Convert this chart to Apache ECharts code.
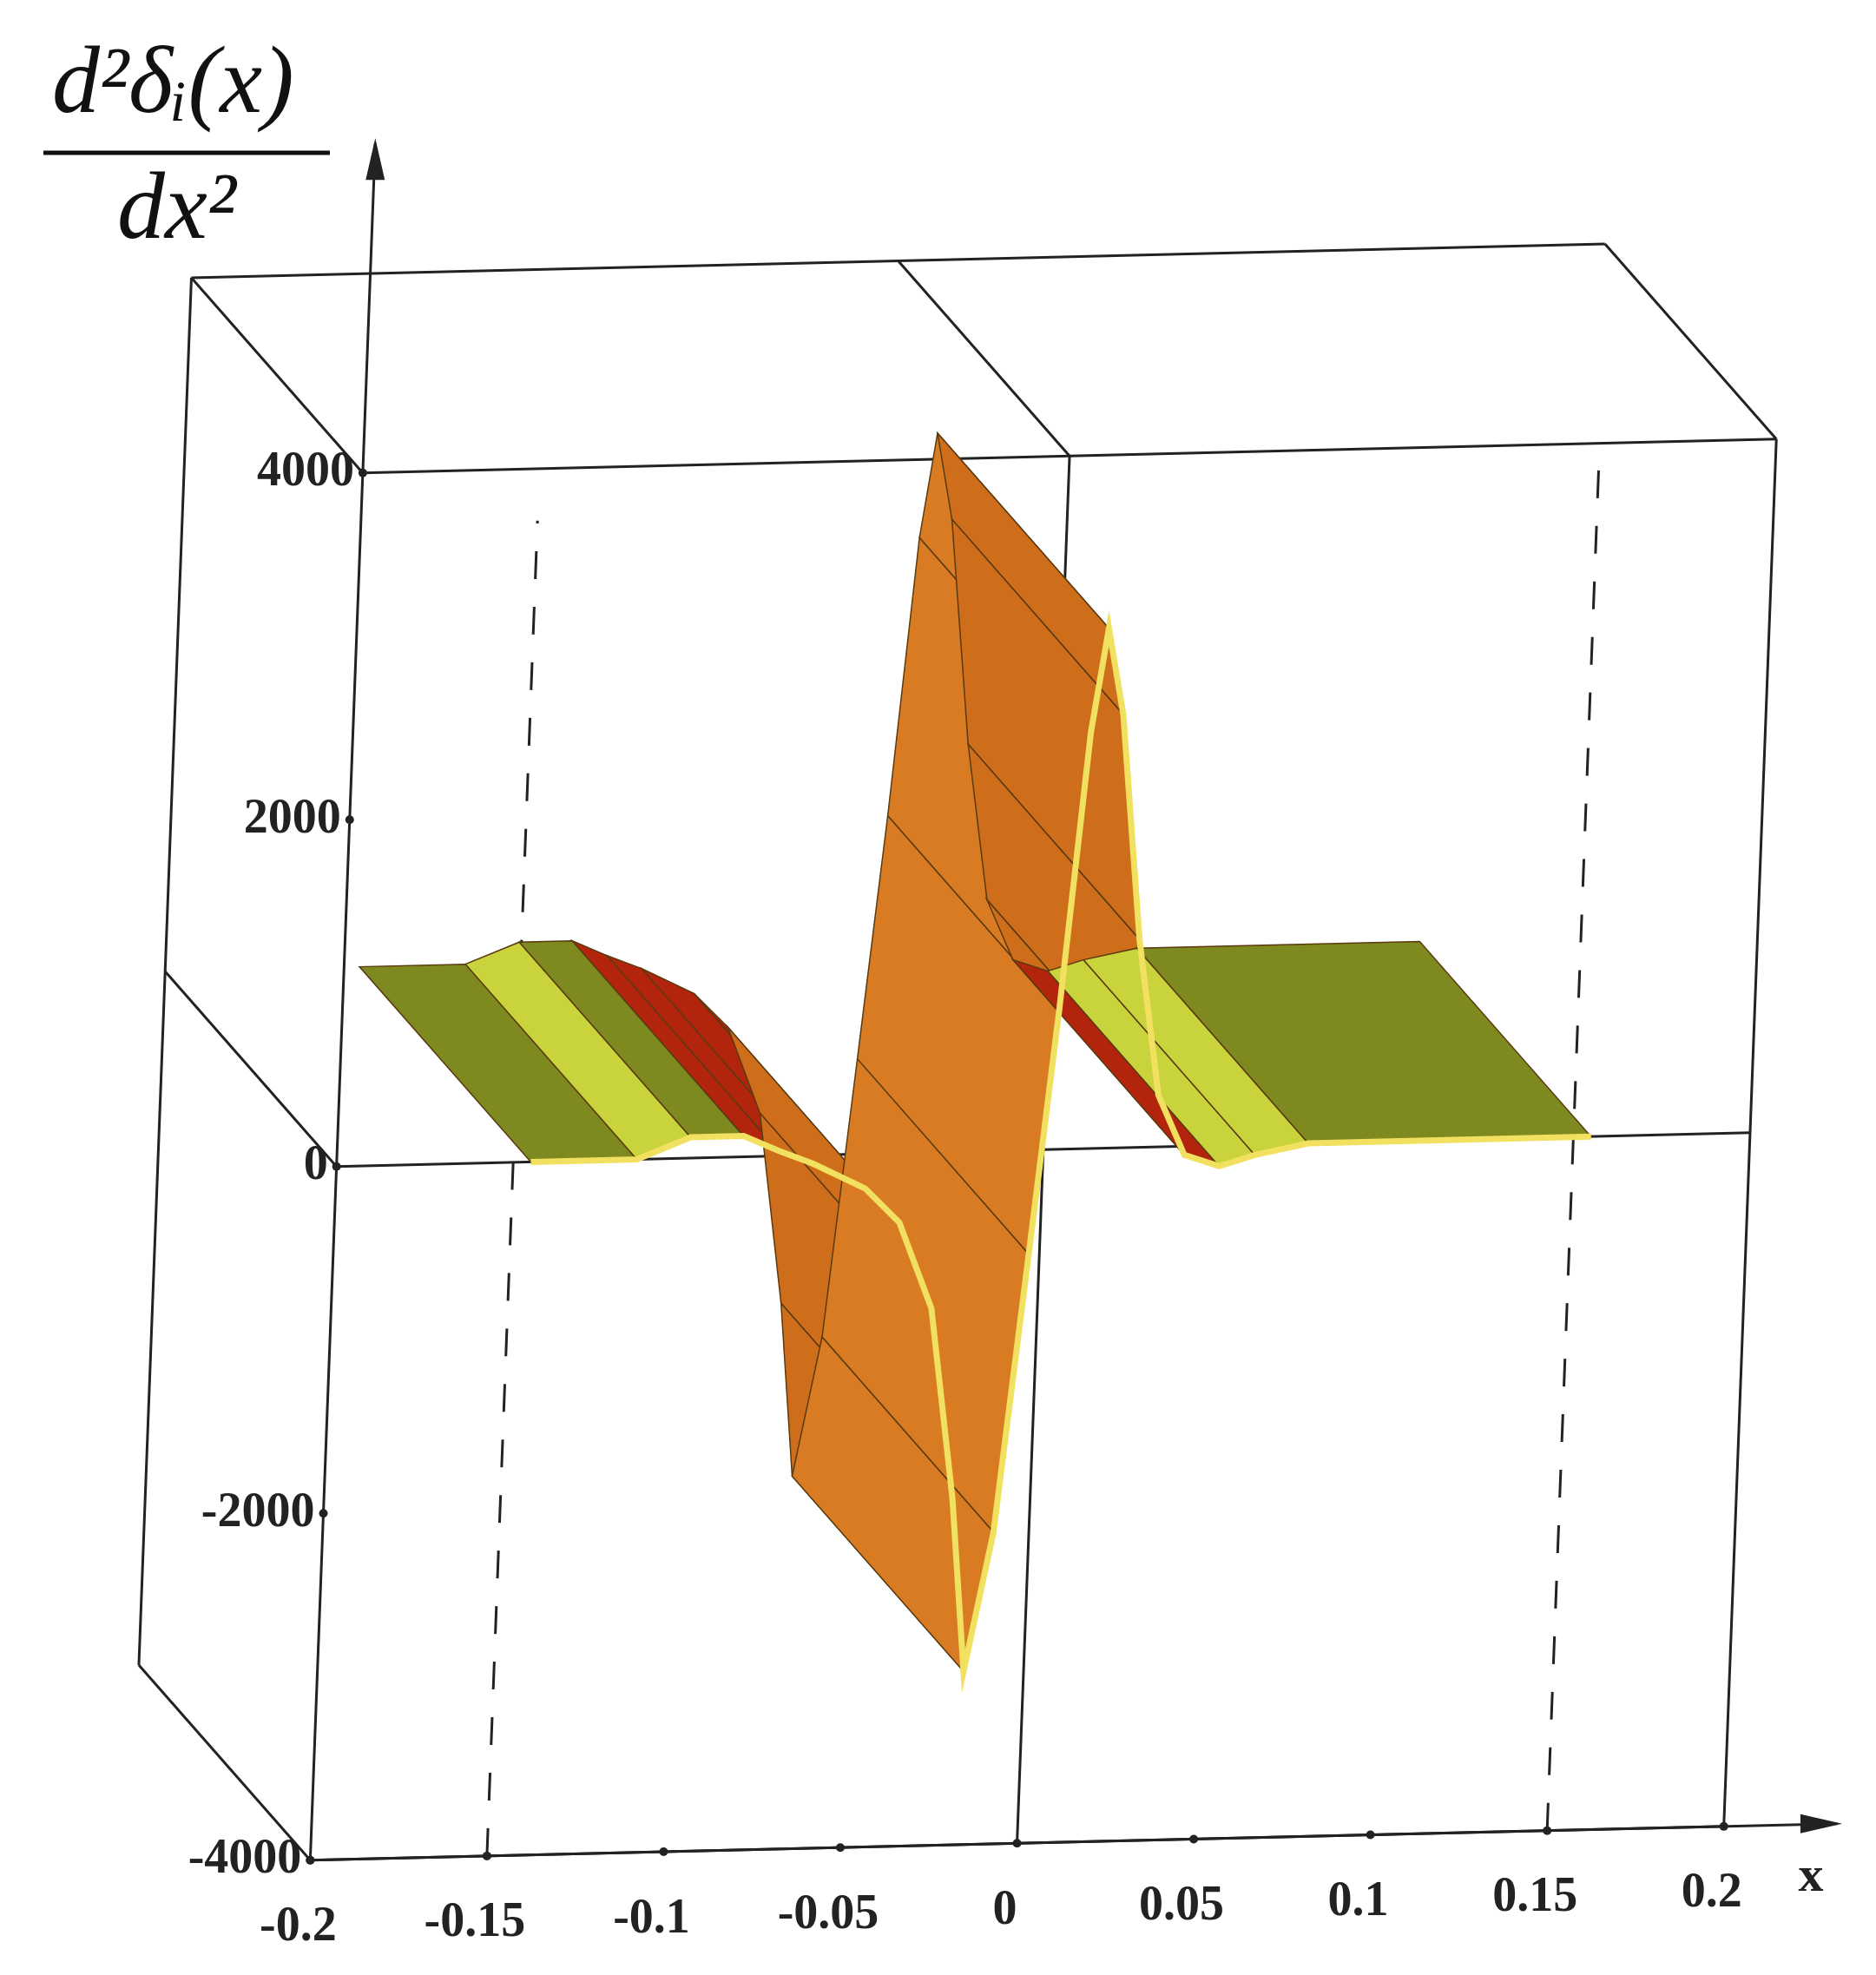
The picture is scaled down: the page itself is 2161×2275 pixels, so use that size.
<!DOCTYPE html>
<html><head><meta charset="utf-8">
<script src="https://cdn.jsdelivr.net/npm/echarts@6/dist/echarts.min.js"></script>
<style>html,body{margin:0;padding:0;background:#fff}#c{width:2161px;height:2275px}</style>
</head><body><div id="c"></div>
<script>
const profileX = [-0.145,-0.115,-0.1,-0.085,-0.075,-0.065,-0.05,-0.04,-0.03,-0.022,-0.017,-0.01,-0.003,0.003,0.009,0.013,0.018,0.025,0.032,0.04,0.05,0.06,0.075,0.155];
const profileZ = [0,0,120,120,30,-50,-200,-400,-900,-2000,-3000,-2200,-600,800,2400,3000,2500,1200,300,-50,-120,-60,0,0];
const xTicks = [-0.2,-0.15,-0.1,-0.05,0,0.05,0.1,0.15,0.2];
const xTickLabels = ['-0.2','-0.15','-0.1','-0.05','0','0.05','0.1','0.15','0.2'];
const zTicks = [-4000,-2000,0,2000,4000];
const zTickLabels = ['-4000','-2000','0','2000','4000'];

const S = 1.441;
const chart = echarts.init(document.getElementById('c'));
const serif = 'Liberation Serif';
function renderItem(params, api){
  const P = (x,z,d)=>{const c=api.coord([x,z]);return [c[0]+S*((z+4000)/8000*42-137*d), c[1]-S*((x+0.2)/0.4*27+156*d)];};
  const ch=[];
  const line=(a,b,dash)=>ch.push({type:'line',shape:{x1:a[0],y1:a[1],x2:b[0],y2:b[1]},style:{stroke:'#222',lineWidth:3,lineDash:dash||null},z2:1});
  const X0=-0.2,X1=0.2,Zb=-4000,Zt=4000;
  line(P(X0,Zb,0),P(X1,Zb,0));
  line(P(X0,Zt,0),P(X1,Zt,0));
  line(P(X1,Zb,0),P(X1,Zt,0));
  line(P(X0,Zt,1),P(X1,Zt,1));
  line(P(X0,Zb,1),P(X0,Zt,1));
  line(P(X0,Zt,0),P(X0,Zt,1));
  line(P(X1,Zt,0),P(X1,Zt,1));
  line(P(0,Zt,0),P(0,Zt,1));
  line(P(X0,Zb,0),P(X0,Zb,1));
  line(P(X0,0,0),P(X0,0,1));
  line(P(0,Zb,0),P(0,Zt,0));
  line(P(X0,0,0),P(X1,0,0));
  line(P(-0.15,Zb,0),P(-0.15,Zt-300,0),[32,32]);
  line(P(0.15,Zb,0),P(0.15,Zt,0),[32,32]);
  const a0=P(X0,Zb,0), a1=P(X0,5900,0);
  line(a0,a1);
  ch.push({type:'polygon',shape:{points:[[a1[0],a1[1]-6],[a1[0]-11,a1[1]+42],[a1[0]+11,a1[1]+42]]},style:{fill:'#222'},z2:1});
  const b1=P(0.232,Zb,0);
  line(a0,b1);
  ch.push({type:'polygon',shape:{points:[[b1[0]+6,b1[1]],[b1[0]-42,b1[1]-11],[b1[0]-42,b1[1]+11]]},style:{fill:'#222'},z2:1});
  for(let i=0;i<profileX.length-1;i++){
    const x0=profileX[i],x1=profileX[i+1],z0=profileZ[i],z1=profileZ[i+1];
    const s=(z1-z0)/(x1-x0);
    let col;
    if(Math.abs(s)<2000) col='#7e8a1f';
    else if(Math.abs(s)<40000) col = s<0 ? '#b3240c' : '#c9d43c';
    else col = s>0 ? '#d97b22' : '#cf6e1a';
    ch.push({type:'polygon',shape:{points:[P(x0,z0,0),P(x1,z1,0),P(x1,z1,1),P(x0,z0,1)]},
      style:{fill:col,stroke:'#5a3a10',lineWidth:1.5},z2:5+i});
  }
  const fp=profileX.map((x,i)=>P(x,profileZ[i],0));
  ch.push({type:'polyline',shape:{points:fp},style:{stroke:'#f2e060',lineWidth:7,fill:null},z2:100});
  xTicks.forEach((x,i)=>{const p=P(x,Zb,0);
    ch.push({type:'circle',shape:{cx:p[0],cy:p[1],r:5},style:{fill:'#222'},z2:2});
    ch.push({type:'text',x:p[0]-14,y:p[1]+78,style:{text:xTickLabels[i],font:'bold 56px '+serif,fill:'#222',align:'center',verticalAlign:'middle'},z2:2});});
  zTicks.forEach((z,i)=>{const p=P(X0,z,0);
    ch.push({type:'circle',shape:{cx:p[0],cy:p[1],r:5},style:{fill:'#222'},z2:2});
    ch.push({type:'text',x:p[0]-10,y:p[1],style:{text:zTickLabels[i],font:'bold 56px '+serif,fill:'#222',align:'right',verticalAlign:'middle'},z2:2});});
  const xp=P(0.232,Zb,0);
  ch.push({type:'text',x:xp[0]-30,y:xp[1]+62,style:{text:'x',font:'bold 58px '+serif,fill:'#222',align:'center',verticalAlign:'middle'},z2:2});
  return {type:'group',children:ch};
}
chart.setOption({
  animation:false,
  grid:{left:248*S,top:378*S,width:1130*S,height:1109*S},
  xAxis:{type:'value',min:-0.2,max:0.2,show:false},
  yAxis:{type:'value',min:-4000,max:4000,show:false},
  graphic:[
    {type:'text',left:60,top:45,style:{text:'d²δᵢ(x)',font:'italic 110px '+serif,fill:'#111'}},
    {type:'line',shape:{x1:50,y1:176,x2:380,y2:176},style:{stroke:'#111',lineWidth:5}},
    {type:'text',left:135,top:190,style:{text:'dx²',font:'italic 110px '+serif,fill:'#111'}}
  ],
  series:[{type:'custom',coordinateSystem:'cartesian2d',data:[[0,0]],renderItem:renderItem,clip:false}]
});
</script></body></html>
